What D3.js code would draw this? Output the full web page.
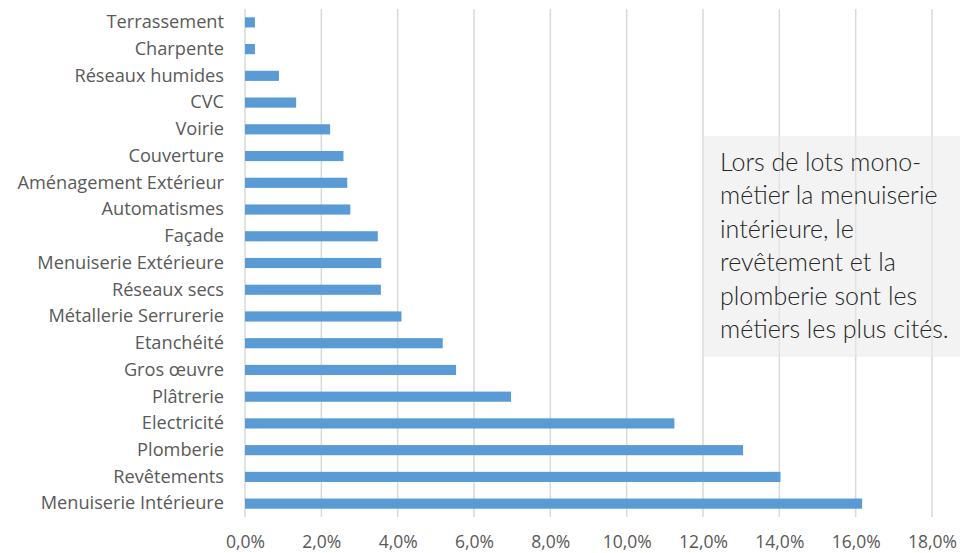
<!DOCTYPE html>
<html>
<head>
<meta charset="utf-8">
<script src="https://cdn.jsdelivr.net/npm/d3@7"></script>
<style>
  body { margin: 0; background: #fff; }
  svg { display: block; }
</style>
</head>
<body>
<svg width="960" height="553"></svg>
<script>
// categories from top to bottom, as in the picture
var categories = ['Terrassement', 'Charpente', 'Réseaux humides', 'CVC', 'Voirie',
    'Couverture', 'Aménagement Extérieur', 'Automatismes', 'Façade',
    'Menuiserie Extérieure', 'Réseaux secs', 'Métallerie Serrurerie', 'Etanchéité',
    'Gros œuvre', 'Plâtrerie', 'Electricité', 'Plomberie', 'Revêtements',
    'Menuiserie Intérieure'];
// share of mentions, in percent
var values = [0.26, 0.26, 0.89, 1.34, 2.23, 2.58, 2.68, 2.76, 3.48, 3.57, 3.56,
    4.10, 5.18, 5.53, 6.97, 11.25, 13.05, 14.03, 16.17];
var ticks = [0, 2, 4, 6, 8, 10, 12, 14, 16, 18];
var noteLines = ['Lors de lots mono-', 'métier la menuiserie', 'intérieure, le',
    'revêtement et la', 'plomberie sont les', 'métiers les plus cités.'];

var svg = d3.select('svg');
var padding = { t: 9, r: 28, b: 36, l: 245 };
var chartWidth = +svg.attr('width') - padding.l - padding.r;
var chartHeight = +svg.attr('height') - padding.t - padding.b;

var xScale = d3.scaleLinear().domain([0, 18]).range([0, chartWidth]);
var yScale = d3.scaleBand().domain(categories).range([0, chartHeight]).paddingInner(0.62).paddingOuter(0.31);

var chartG = svg.append('g')
    .attr('transform', `translate(${padding.l}, ${padding.t})`);

// vertical gridlines
chartG.selectAll('.grid')
    .data(ticks)
    .enter().append('line')
    .attr('class', 'grid')
    .attr('x1', d => xScale(d)).attr('x2', d => xScale(d))
    .attr('y1', 0).attr('y2', chartHeight)
    .attr('stroke', '#d9d9d9')
    .attr('stroke-width', 1.5);

// bars
chartG.selectAll('.bar')
    .data(values)
    .enter().append('rect')
    .attr('class', 'bar')
    .attr('x', 0)
    .attr('y', (d, i) => yScale(categories[i]))
    .attr('width', d => xScale(d))
    .attr('height', yScale.bandwidth())
    .attr('fill', '#5b9bd5');

// category axis
var yAxis = chartG.append('g').attr('class', 'y-axis')
    .call(d3.axisLeft(yScale).tickSize(0).tickPadding(21));
yAxis.select('.domain').remove();
yAxis.selectAll('text')
    .style('font-family', '"Open Sans", sans-serif')
    .style('font-size', '18.2px')
    .attr('fill', '#595959');

// percent axis
var fmt = d => d3.format('.1f')(d).replace('.', ',') + '%';
var xAxis = chartG.append('g').attr('class', 'x-axis')
    .attr('transform', `translate(0, ${chartHeight})`)
    .call(d3.axisBottom(xScale).tickValues(ticks).tickFormat(fmt).tickSize(0).tickPadding(19));
xAxis.select('.domain').remove();
xAxis.selectAll('text')
    .style('font-family', '"Open Sans", sans-serif')
    .style('font-size', '17.5px')
    .attr('fill', '#595959');

// note box
var noteG = svg.append('g');
noteG.append('rect')
    .attr('x', 703).attr('y', 136)
    .attr('width', 257).attr('height', 221)
    .attr('fill', '#e9e9e9')
    .attr('fill-opacity', 0.55);
noteG.selectAll('text')
    .data(noteLines)
    .enter().append('text')
    .attr('x', 720)
    .attr('y', (d, i) => 171 + i * 33.4)
    .style('font-family', 'Lato, sans-serif')
    .style('font-weight', 300)
    .style('font-size', '25px')
    .attr('fill', '#262626')
    .text(d => d);
</script>
</body>
</html>
